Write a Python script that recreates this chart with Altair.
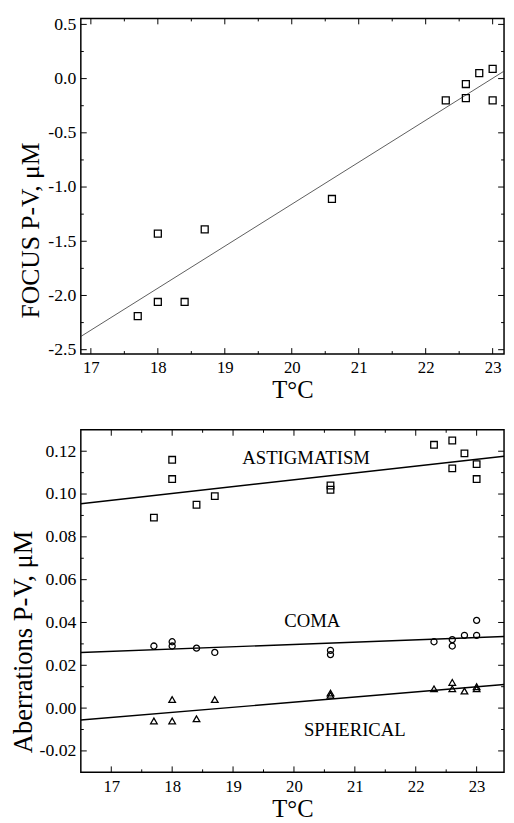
import altair as alt
import pandas as pd

# ---------------- data ----------------
focus_T = [17.7, 18.0, 18.0, 18.4, 18.7, 20.6, 22.3, 22.6, 22.6, 22.8, 23.0, 23.0]
focus_V = [-2.19, -2.06, -1.43, -2.06, -1.39, -1.11, -0.20, -0.18, -0.05, 0.05, 0.09, -0.20]
focus_fit_T = [16.85, 23.17]
focus_fit_V = [-2.378, 0.069]

ab_T = [17.7, 18.0, 18.0, 18.4, 18.7, 20.6, 20.6, 22.3, 22.6, 22.6, 22.8, 23.0, 23.0]
astig_V = [0.089, 0.107, 0.116, 0.095, 0.099, 0.102, 0.104, 0.123, 0.125, 0.112, 0.119, 0.114, 0.107]
coma_V = [0.029, 0.031, 0.029, 0.028, 0.026, 0.027, 0.025, 0.031, 0.032, 0.029, 0.034, 0.034, 0.041]
sph_V = [-0.006, 0.004, -0.006, -0.005, 0.004, 0.006, 0.007, 0.009, 0.012, 0.009, 0.008, 0.010, 0.009]
fit_T = [16.5, 23.45]
astig_fit = [0.0955, 0.1177]
coma_fit = [0.026, 0.0334]
sph_fit = [-0.0056, 0.011]

label_text = ["ASTIGMATISM", "COMA", "SPHERICAL"]
label_T = [20.2, 20.3, 21.0]
label_V = [0.117, 0.0405, -0.0101]

top_x_major = [17, 18, 19, 20, 21, 22, 23]
top_x_minor = [17.5, 18.5, 19.5, 20.5, 21.5, 22.5]
top_y_major = [-2.5, -2.0, -1.5, -1.0, -0.5, 0.0, 0.5]
top_y_minor = [-2.25, -1.75, -1.25, -0.75, -0.25, 0.25]
bot_x_major = [17, 18, 19, 20, 21, 22, 23]
bot_x_minor = [17.5, 18.5, 19.5, 20.5, 21.5, 22.5]
bot_y_major = [-0.02, 0.0, 0.02, 0.04, 0.06, 0.08, 0.10, 0.12]
bot_y_minor = [-0.01, 0.01, 0.03, 0.05, 0.07, 0.09, 0.11]

SERIF = "Liberation Serif"
W = 430


def fmt_expr(d):
    return f"datum.value < 0 ? '-' + format(-datum.value, '{d}') : format(datum.value, '{d}')"


def panel(xdom, ydom, xmaj, xmin, ymaj, ymin, yfmt, ytitle, w, h,
          content, title_y, xtitle_y, yt_pad, yt_size):
    xs = alt.Scale(domain=xdom, nice=False, zero=False)
    ys = alt.Scale(domain=ydom, nice=False, zero=False)
    xaxis = alt.Axis(values=xmaj, ticks=False, domain=False, grid=False,
                     labelFont=SERIF, labelFontSize=17, labelPadding=6,
                     labelColor="black", format="d",
                     title="T\u00b0C", titleFont=SERIF, titleFontSize=25,
                     titleFontWeight="normal", titleColor="black",
                     titleBaseline="alphabetic", titleY=xtitle_y)
    yaxis = alt.Axis(values=ymaj, ticks=False, domain=False, grid=False,
                     labelFont=SERIF, labelFontSize=18, labelPadding=5,
                     labelColor="black", labelExpr=fmt_expr(yfmt),
                     title=ytitle, titleFont=SERIF, titleFontSize=yt_size,
                     titleFontWeight="normal", titleColor="black",
                     titlePadding=yt_pad, titleY=title_y)
    layers = []
    for vals, L in [(xmaj, 6), (xmin, 3)]:
        df = pd.DataFrame({"v": vals})
        X = alt.X("v:Q", scale=xs, axis=xaxis)
        layers.append(alt.Chart(df).mark_rule(color="black", strokeWidth=1)
                      .encode(x=X, y=alt.value(h), y2=alt.value(h - L)))
        layers.append(alt.Chart(df).mark_rule(color="black", strokeWidth=1)
                      .encode(x=X, y=alt.value(0), y2=alt.value(L)))
    for vals, L in [(ymaj, 6), (ymin, 3)]:
        df = pd.DataFrame({"v": vals})
        Y = alt.Y("v:Q", scale=ys, axis=yaxis)
        layers.append(alt.Chart(df).mark_rule(color="black", strokeWidth=1)
                      .encode(y=Y, x=alt.value(0), x2=alt.value(L)))
        layers.append(alt.Chart(df).mark_rule(color="black", strokeWidth=1)
                      .encode(y=Y, x=alt.value(w), x2=alt.value(w - L)))
    for c in content:
        layers.append(c(xs, ys, xaxis, yaxis))
    return alt.layer(*layers).properties(width=w, height=h)


def pts(T, V, shape, size):
    def f(xs, ys, xa, ya):
        df = pd.DataFrame({"T": T, "V": V})
        return alt.Chart(df).mark_point(shape=shape, size=size, filled=False,
                                        color="black", strokeWidth=1.3, opacity=1).encode(
            x=alt.X("T:Q", scale=xs, axis=xa), y=alt.Y("V:Q", scale=ys, axis=ya))
    return f


def fitline(T, V, width, color):
    def f(xs, ys, xa, ya):
        df = pd.DataFrame({"T": T, "V": V})
        return alt.Chart(df).mark_line(color=color, strokeWidth=width, clip=True).encode(
            x=alt.X("T:Q", scale=xs, axis=xa), y=alt.Y("V:Q", scale=ys, axis=ya))
    return f


def labels():
    def f(xs, ys, xa, ya):
        df = pd.DataFrame({"T": label_T, "V": label_V, "t": label_text})
        return alt.Chart(df).mark_text(font=SERIF, fontSize=19, color="black").encode(
            x=alt.X("T:Q", scale=xs, axis=xa), y=alt.Y("V:Q", scale=ys, axis=ya), text="t:N")
    return f


top = panel([16.85, 23.17], [-2.54, 0.555], top_x_major, top_x_minor,
            top_y_major, top_y_minor, ".1f", "FOCUS P-V,  \u03bcM", W, 341,
            [fitline(focus_fit_T, focus_fit_V, 0.8, "#333333"),
             pts(focus_T, focus_V, "square", 50)],
            215, 44, 5, 26)

bottom = panel([16.5, 23.45], [-0.03, 0.13], bot_x_major, bot_x_minor,
               bot_y_major, bot_y_minor, ".2f", "Aberrations P-V, \u03bcM", W, 348,
               [fitline(fit_T, astig_fit, 1.5, "black"),
                fitline(fit_T, coma_fit, 1.5, "black"),
                fitline(fit_T, sph_fit, 1.5, "black"),
                pts(ab_T, astig_V, "square", 45),
                pts(ab_T, coma_V, "circle", 38),
                pts(ab_T, sph_V, "triangle-up", 45),
                labels()],
               215, 45, 2, 27)

chart = (alt.vconcat(top, bottom, spacing=25)
         .properties(padding={"left": 0, "top": 0, "right": 0, "bottom": 0})
         .configure(font=SERIF, background="white")
         .configure_axis(labelFont=SERIF, titleFont=SERIF)
         .configure_text(font=SERIF)
         .configure_view(stroke="black", strokeWidth=1.5))

chart.save("out.html", embed_options={"renderer": "svg", "actions": False})
